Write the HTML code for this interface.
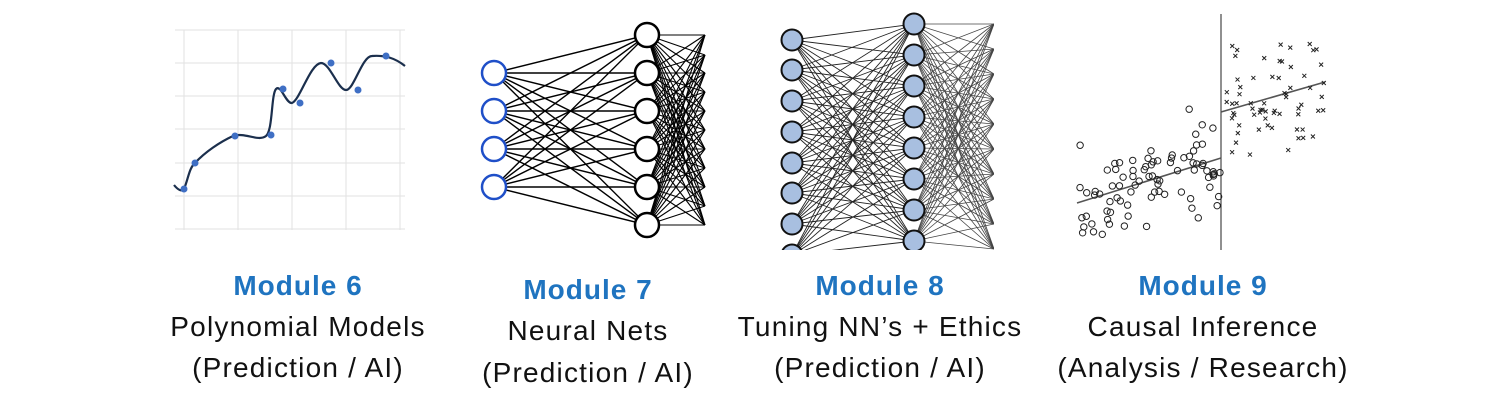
<!DOCTYPE html>
<html><head><meta charset="utf-8"><style>
html,body{margin:0;padding:0;background:#fff;width:1507px;height:401px;overflow:hidden}
svg{position:absolute;left:0;top:0}
.t{font-family:"Liberation Sans",sans-serif;font-size:28px;fill:#111;text-anchor:middle;letter-spacing:1.2px}
.h{font-weight:bold;fill:#1f74c0;letter-spacing:1px}
</style></head><body>
<svg id="s" width="1507" height="401" viewBox="0 0 1507 401">
<defs><clipPath id="c8"><rect x="776" y="10" width="218" height="240"/></clipPath></defs>
<g id="p1"></g><g id="p2"></g><g id="p3" clip-path="url(#c8)"></g><g id="p4"></g>
<text class="t h" x="298" y="295">Module 6</text>
<text class="t" x="298" y="336">Polynomial Models</text>
<text class="t" x="298" y="377">(Prediction / AI)</text>
<text class="t h" x="588" y="299">Module 7</text>
<text class="t" x="588" y="340">Neural Nets</text>
<text class="t" x="588" y="382">(Prediction / AI)</text>
<text class="t h" x="880" y="295">Module 8</text>
<text class="t" x="880" y="336">Tuning NN’s + Ethics</text>
<text class="t" x="880" y="377">(Prediction / AI)</text>
<text class="t h" x="1203" y="295">Module 9</text>
<text class="t" x="1203" y="336">Causal Inference</text>
<text class="t" x="1203" y="377">(Analysis / Research)</text>
</svg>
<script>
var NS="http://www.w3.org/2000/svg";
function el(g,n,a){var e=document.createElementNS(NS,n);for(var k in a)e.setAttribute(k,a[k]);document.getElementById(g).appendChild(e);return e;}
[184,238,292,346,400].forEach(function(x){el("p1","line",{x1:x,y1:30,x2:x,y2:230,stroke:"#e2e2e2","stroke-width":1});});
[30,63,96,129,163,196,229].forEach(function(y){el("p1","line",{x1:175,y1:y,x2:405,y2:y,stroke:"#e2e2e2","stroke-width":1});});
el("p1","path",{d:"M174,185 C178,190 182,192 184,189 C188,180 189,168 195,163 C205,152 220,142 233,136 C245,132 258,142 266,136 C273,130 271,95 276,89 C281,84 286,104 292,103 C300,100 310,64 321,63 C330,63 338,90 346,90 C354,90 362,56 372,56 C385,55 395,58 405,66",fill:"none",stroke:"#1b2f4d","stroke-width":2.2});
[[184,189],[195,163],[235,136],[271,135],[283,89],[300,103],[331,63],[358,90],[386,56]].forEach(function(p){el("p1","circle",{cx:p[0],cy:p[1],r:3.5,fill:"#3f6fc4"});});
var inY=[73,111,149,187],hY=[35,73,111,149,187,225],oY=[35,55,73,92,111,130,149,168,187,206,225];
inY.forEach(function(a){hY.forEach(function(b){el("p2","line",{x1:494,y1:a,x2:647,y2:b,stroke:"#000","stroke-width":1.4});});});
hY.forEach(function(a){oY.forEach(function(b){el("p2","line",{x1:647,y1:a,x2:705,y2:b,stroke:"#000","stroke-width":1.1});});});
inY.forEach(function(y){el("p2","circle",{cx:494,cy:y,r:12,fill:"#fff",stroke:"#1f4fc8","stroke-width":2.5});});
hY.forEach(function(y){el("p2","circle",{cx:647,cy:y,r:12,fill:"#fff",stroke:"#000","stroke-width":2.5});});
var L=[40,70,101,132,163,193,224,255],M=[24,55,86,117,148,179,210,241],R=[];for(var i=0;i<10;i++)R.push(24+i*25);
L.forEach(function(a){M.forEach(function(b){el("p3","line",{x1:792,y1:a,x2:914,y2:b,stroke:"#222","stroke-width":0.9});});});
M.forEach(function(a){R.forEach(function(b){el("p3","line",{x1:914,y1:a,x2:994,y2:b,stroke:"#444","stroke-width":0.8});});});
L.forEach(function(y){el("p3","circle",{cx:792,cy:y,r:10.5,fill:"#a8bfe0",stroke:"#111","stroke-width":2});});
M.forEach(function(y){el("p3","circle",{cx:914,cy:y,r:10.5,fill:"#a8bfe0",stroke:"#111","stroke-width":2});});
var seed=11;function rnd(){seed=(seed*16807)%2147483647;return seed/2147483647;}
el("p4","line",{x1:1221,y1:14,x2:1221,y2:250,stroke:"#222","stroke-width":1});
el("p4","line",{x1:1077,y1:203,x2:1221,y2:158,stroke:"#555","stroke-width":1.6});
el("p4","line",{x1:1221,y1:112,x2:1325,y2:82,stroke:"#555","stroke-width":1.6});
for(var i=0;i<85;i++){var x=1080+rnd()*140,y=203-(x-1077)*0.31+(rnd()+rnd()-1)*60;el("p4","circle",{cx:x,cy:y,r:3.2,fill:"none",stroke:"#222","stroke-width":1});}
for(var i=0;i<65;i++){var x=1225+rnd()*100,y=112-(x-1221)*0.29+(rnd()+rnd()-1)*70;el("p4","path",{d:"M"+(x-2)+","+(y-2)+"l4,4m0,-4l-4,4",stroke:"#222","stroke-width":1});}
</script>
</body></html>
